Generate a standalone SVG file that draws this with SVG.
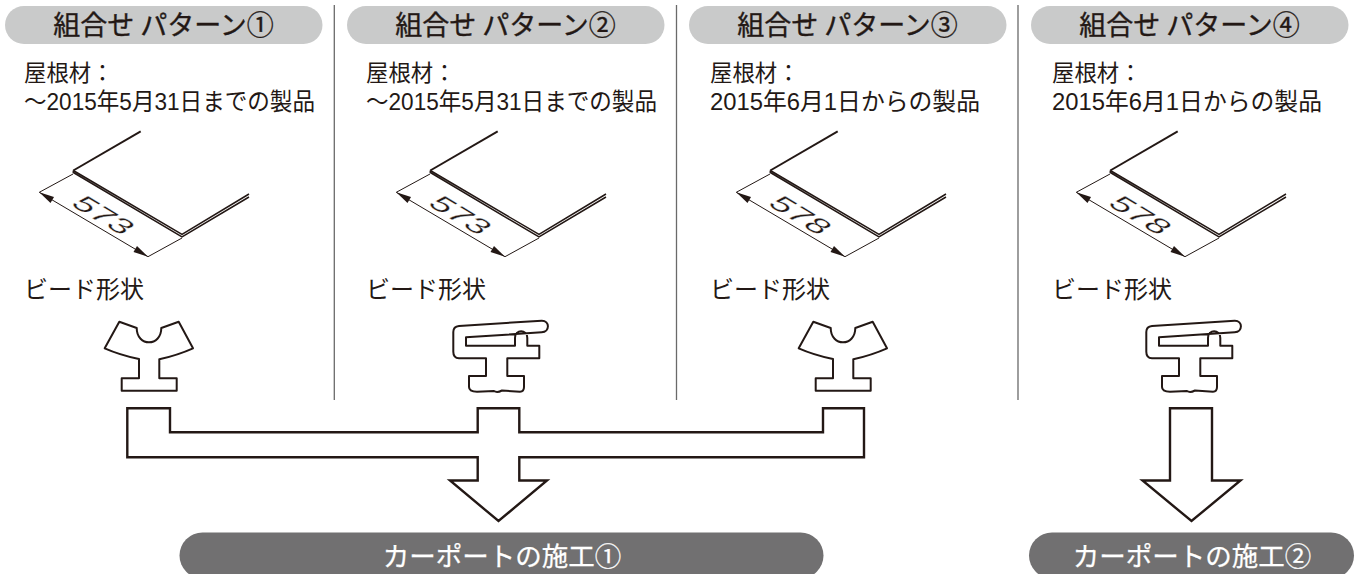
<svg xmlns="http://www.w3.org/2000/svg" width="1357" height="574" viewBox="0 0 1357 574">
<style>
text{font-family:"Liberation Sans","Noto Sans CJK JP",sans-serif;fill:#231815}
.t{font-size:27px;text-anchor:middle;font-family:"Noto Sans CJK JP",sans-serif;stroke:#231815;stroke-width:.35}
.b{font-size:22.4px}
.c{font-size:24px}
.w{font-size:26.5px;text-anchor:middle;fill:#fff;font-family:"Noto Sans CJK JP",sans-serif;stroke:#fff;stroke-width:.25}
.pill{fill:#c9caca}
.dark{fill:#717071}
.o{fill:#fff;stroke:#231815;stroke-width:2.4;stroke-linejoin:miter}
.s{fill:none;stroke:#231815;stroke-width:1.5}
.e{fill:none;stroke:#231815;stroke-width:1}
.g{fill:none;stroke:#231815;stroke-width:2;stroke-linejoin:round}
.v{fill:none;stroke:#6a6a6a;stroke-width:1.3}
.d{font-size:25px;text-anchor:middle;stroke:#fff;stroke-width:.3}
</style>
<defs>
<g id="sheet">
<path class="g" d="M140.7,131.3L73.3,170.5"/>
<path class="s" d="M73.3,170.5L73.3,172.5L182,237L249,197M73.3,170.5L182,234.5L249,194"/>
<path class="e" d="M73,174L39.3,192.3M182,238L148,256.7"/>
<path class="e" d="M39.3,192.3L148,256.7"/>
<path d="M39.3,192.3L54,197L50.5,203Z" fill="#231815"/>
<path d="M148,256.7L133.5,252L137,246Z" fill="#231815"/>
</g>
<path id="beadY" class="g" d="M119.3,321.7L136.7,328C136.7,347 161.3,347 161.3,328L178.7,321.7L193,348.3Q178,355 159.3,359.3V378.3H176.7V390.7H121.7V378.3H139V359Q120,355 104.7,348.3Z"/>
<path id="beadF" class="g" d="M459,326L541.7,320.7C550,320.5 550,332 541.7,332.3L466,337.3V345.7H515V338C515,329 527.3,329 527.3,338V345.7H539.3V358.3H507.3V376H524V387Q524,391.7 520,391.7L502,390.5Q497,393 494,391L477,391.7Q469,391.7 469,387V376H486V358.3H459Q453.3,358 453.3,351.7V332Q453.3,326.5 459,326Z"/>
</defs>

<g id="connectors">
<path id="arrow1" class="o" d="M127.3,408.3H170V432.3H477.7V408.3H519.3V432.3H823V408.3H864V457.3H519.3V480.5H547L498.5,521L450,480.5H477.7V457.3H127.3Z"/>
<path id="arrow2" class="o" d="M1170,408.3H1212V480.5H1240.5L1191.5,521L1142.5,480.5H1170Z"/>
</g>

<g id="dividers">
<path class="v" d="M334.3,5V400M676.5,5V400M1018,5V400"/>
</g>

<g id="pattern1">
<rect class="pill" x="5" y="6" width="317.5" height="38" rx="19"/>
<text class="t" x="163.5" y="35">組合せ パターン①</text>
<text class="b" x="24" y="81">屋根材：</text>
<text class="c" x="24" y="110" textLength="291" lengthAdjust="spacingAndGlyphs">〜2015年5月31日までの製品</text>
<use href="#sheet"/>
<text class="d" transform="matrix(1.26,.76,-.94,.565,104,215)" y="9">573</text>
<text class="c" x="24" y="298">ビード形状</text>
<use href="#beadY"/>
</g>

<g id="pattern2">
<rect class="pill" x="347" y="6" width="317.5" height="38" rx="19"/>
<text class="t" x="505.5" y="35">組合せ パターン②</text>
<text class="b" x="366" y="81">屋根材：</text>
<text class="c" x="366" y="110" textLength="291" lengthAdjust="spacingAndGlyphs">〜2015年5月31日までの製品</text>
<use href="#sheet" x="357"/>
<text class="d" transform="matrix(1.26,.76,-.94,.565,461,215)" y="9">573</text>
<text class="c" x="366" y="298">ビード形状</text>
<use href="#beadF"/>
</g>

<g id="pattern3">
<rect class="pill" x="689" y="6" width="317.5" height="38" rx="19"/>
<text class="t" x="847.5" y="35">組合せ パターン③</text>
<text class="b" x="710" y="81">屋根材：</text>
<text class="c" x="710" y="110" textLength="270" lengthAdjust="spacingAndGlyphs">2015年6月1日からの製品</text>
<use href="#sheet" x="697"/>
<text class="d" transform="matrix(1.26,.76,-.94,.565,801,215)" y="9">578</text>
<text class="c" x="710" y="298">ビード形状</text>
<use href="#beadY" x="694"/>
</g>

<g id="pattern4">
<rect class="pill" x="1031" y="6" width="317.5" height="38" rx="19"/>
<text class="t" x="1189.5" y="35">組合せ パターン④</text>
<text class="b" x="1052" y="81">屋根材：</text>
<text class="c" x="1052" y="110" textLength="270" lengthAdjust="spacingAndGlyphs">2015年6月1日からの製品</text>
<use href="#sheet" x="1037"/>
<text class="d" transform="matrix(1.26,.76,-.94,.565,1141,215)" y="9">578</text>
<text class="c" x="1052" y="298">ビード形状</text>
<use href="#beadF" x="693"/>
</g>

<g id="result1">
<rect class="dark" x="179.5" y="532.5" width="644" height="46" rx="23"/>
<text class="w" x="502" y="566">カーポートの施工①</text>
</g>
<g id="result2">
<rect class="dark" x="1029" y="532.5" width="325" height="46" rx="23"/>
<text class="w" x="1192" y="566">カーポートの施工②</text>
</g>
</svg>
